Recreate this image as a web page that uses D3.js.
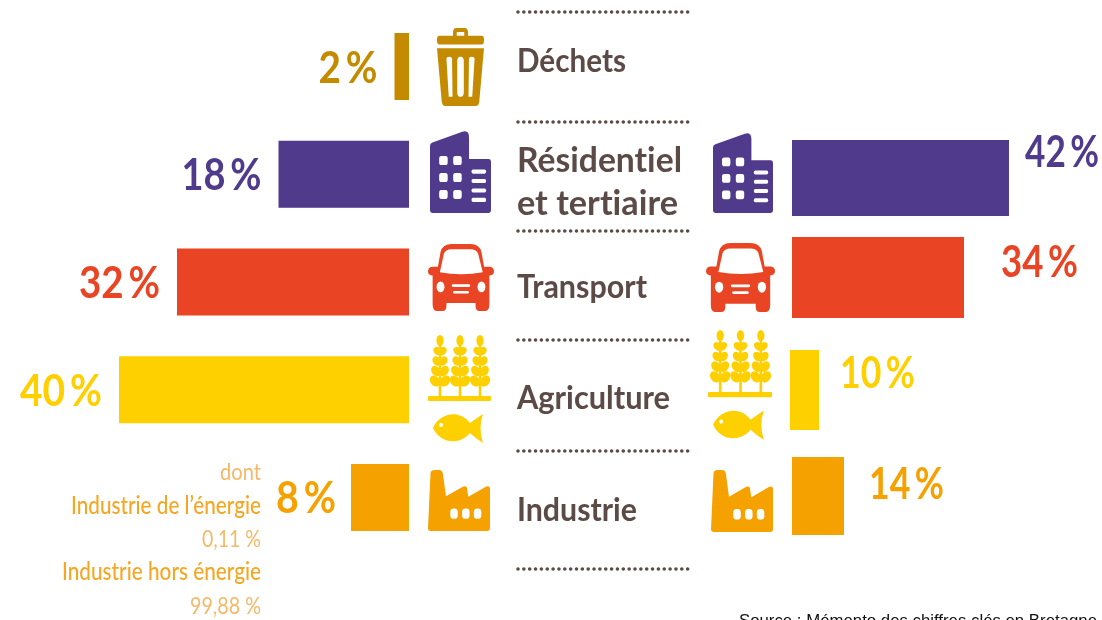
<!DOCTYPE html>
<html><head><meta charset="utf-8">
<script src="https://cdn.jsdelivr.net/npm/d3@7"></script>
<style>html,body{margin:0;padding:0;background:#fff;overflow:hidden}svg{display:block;filter:blur(0.45px)}text{font-family:Lato,sans-serif;font-variant-ligatures:none}</style>
</head><body><svg id="c" width="1102" height="620"></svg>
<script>
const categories = ["Déchets","Résidentiel et tertiaire","Transport","Agriculture","Industrie"];
const leftValues = [2,18,32,40,8];
const rightValues = [null,42,34,10,14];
const categoryLines = [["Déchets"],["Résidentiel","et tertiaire"],["Transport"],["Agriculture"],["Industrie"]];
const colors = ["#c48a00","#4f3a8c","#e94525","#ffd000","#f5a200"];
const industryNotes = ["dont","Industrie de l’énergie","0,11 %","Industrie hors énergie","99,88 %"];
const sourceText = "Source : Mémento des chiffres clés en Bretagne";

// layout tables (not data)
const rightRows = [null,[140,216],[237,318],[350,430],[457,535]];
const rightLabelX = [null,1025,1001,840,869];
const rightLabelY = [null,152,262,373,484];
const leftLabelW = [59,80,81,82,60];
const rightLabelW = [null,74,77,75,75];
const separators = [12,122,231,340,451,569];
const catLabelY = [[61],[161,204],[287],[398],[510]];
const catLabelW = [[109],[165,161],[130],[153],[120]];
const noteY = [472,506,539,572,606];
const noteW = [41,190,59,199,71];
const leftIcon = [[437,28,47,78],[430,131,61,82],[428,244,66,67],[428,335,63,111],[428,470,62,61]];
const rightIcon = [null,[713,133,60,80],[706,243,69,69],[708,330,64,113],[711,470,62,62]];
const iconKind = ["trash","building","car","agri","factory"];

const svg = d3.select("#c");
const xLeft = d3.scaleLinear().domain([0,40]).range([409,119]);
// the right-hand bars of the source are not drawn proportionally: piecewise scale
const xRight = d3.scaleLinear().domain([0,10,14,34,42]).range([792,819,844,964,1009]);
const yLeft = d3.scaleBand().domain(categories).range([33,531]).paddingInner(0.378).paddingOuter(0);
const fmt = v => v + "\u2009%";
const fit = (sel,w) => sel.attr("textLength",w).attr("lengthAdjust","spacingAndGlyphs");

// separators
svg.append("g").selectAll("line").data(separators).join("line")
  .attr("x1",518).attr("x2",690).attr("y1",d=>d).attr("y2",d=>d)
  .attr("stroke","#5b4a46").attr("stroke-width",3.6).attr("stroke-linecap","round").attr("stroke-dasharray","0 5.85");

// bars
svg.append("g").selectAll("rect").data(categories).join("rect")
  .attr("x",(d,i)=>xLeft(leftValues[i])).attr("y",d=>yLeft(d))
  .attr("width",(d,i)=>xLeft(0)-xLeft(leftValues[i])).attr("height",yLeft.bandwidth())
  .attr("fill",(d,i)=>colors[i]);
svg.append("g").selectAll("rect").data(categories.filter((d,i)=>rightValues[i]!==null)).join("rect")
  .each(function(d){const i=categories.indexOf(d);
    d3.select(this).attr("x",xRight(0)-(i===3?2:0)).attr("y",rightRows[i][0])
      .attr("width",xRight(rightValues[i])-xRight(0)+(i===3?2:0)).attr("height",rightRows[i][1]-rightRows[i][0])
      .attr("fill",colors[i]);});

// value labels
categories.forEach((d,i)=>{
  const x0=xLeft(leftValues[i])-17-leftLabelW[i]+(i===4?2:0);
  fit(svg.append("text").attr("x",x0).attr("y",yLeft(d)+yLeft.bandwidth()/2+16)
   .attr("font-size",44).attr("font-weight",700).attr("fill",colors[i]).text(fmt(leftValues[i])),leftLabelW[i]);
  if(rightValues[i]===null) return;
  fit(svg.append("text").attr("x",rightLabelX[i]).attr("y",rightLabelY[i]+15)
   .attr("font-size",44).attr("font-weight",700).attr("fill",colors[i]).text(fmt(rightValues[i])),rightLabelW[i]);
});

// category labels
categoryLines.forEach((lines,i)=>lines.forEach((t,j)=>{
  fit(svg.append("text").attr("x",517).attr("y",catLabelY[i][j]+11).attr("font-size",i===1?35:33).attr("font-weight",700)
    .attr("fill","#5b4a46").text(t),catLabelW[i][j]);
}));

// industry notes
industryNotes.forEach((t,i)=>{
  fit(svg.append("text").attr("x",261-noteW[i]).attr("y",noteY[i]+8).attr("font-size",24)
    .attr("font-weight",i%2?500:400).attr("fill",i%2?"#f5a623":"#f6b868").text(t),noteW[i]);
});

// source (cut by the lower edge, as in the reference)
fit(svg.append("text").attr("x",739).attr("y",626).attr("font-size",16.2).attr("fill","#111")
  .style("font-family","'Liberation Sans',Arial,sans-serif").text(sourceText),358);

// icons
function icon(kind,box,color){
  const vb = kind==="agri" ? [63,111] : [100,100];
  const g=svg.append("g").attr("transform",`translate(${box[0]},${box[1]}) scale(${box[2]/vb[0]},${box[3]/vb[1]})`);
  const P=(d,f)=>g.append("path").attr("d",d).attr("fill",f||color);
  const R=(x,y,w,h,r,f)=>g.append("rect").attr("x",x).attr("y",y).attr("width",w).attr("height",h).attr("rx",r).attr("fill",f||color);
  if(kind==="trash"){
    P("M34 6 Q34 0 41 0 H59 Q66 0 66 6 V11 H58 V5 H42 V11 H34Z");
    R(0,10,100,11,5);
    P("M0 26 H100 L90 94 Q89 100 83 100 H17 Q11 100 10 94Z");
    P("M20 39 Q20 37 26 37 Q32 37 32 39 L33 88 H25Z","#fff");
    R(43,37,14,51,6,"#fff");
    P("M68 39 Q68 37 74 37 Q80 37 80 39 L75 88 H67Z","#fff");
  } else if(kind==="building"){
    P("M0 18 Q0 15 4 14 L53 1 Q64 -2 64 8 V34 H96 Q100 34 100 38 V97 Q100 100 96 100 H4 Q0 100 0 97Z");
    [0,1,2].forEach(r=>{[0,1].forEach(c=>R(15+c*23,30.5+r*20.7,14,11,3.5,"#fff"));});
    [0,1,2,3].forEach(r=>R(68,47+r*11.5,24,5,2.5,"#fff"));
  } else if(kind==="car"){
    P("M15 34 L19 12 Q22 0 36 0 H64 Q78 0 81 12 L85 34 H94 Q100 35 100 41 Q100 46 94 47 H93 V90 Q93 100 87 100 H78 Q72 100 72 92 V88 H28 V92 Q28 100 22 100 H13 Q7 100 7 90 V47 H6 Q0 46 0 41 Q0 35 6 34Z");
    P("M18 42 L24 15 Q26 8 36 8 H64 Q74 8 76 15 L83 42 Q50 48 18 42Z","#fff");
    g.append("ellipse").attr("cx",19).attr("cy",64).attr("rx",6).attr("ry",8).attr("fill","#fff");
    g.append("ellipse").attr("cx",81).attr("cy",64).attr("rx",6).attr("ry",8).attr("fill","#fff");
    R(36,60,28,4,2,"#fff"); R(38,70,24,4,2,"#fff");
  } else if(kind==="agri"){
    [12,32,52].forEach(cx=>{
      R(cx-1.3,6,2.6,56,0);
      g.append("ellipse").attr("cx",cx).attr("cy",5.5).attr("rx",3.6).attr("ry",5.5).attr("fill",color);
      [[16,2.8,4.4,3.4],[26,3.4,5,3.8],[36,4.2,5.6,4.2],[46,5,6,4.6]].forEach(([y,dx,rx,ry])=>{
        [-1,1].forEach(s=>{
          g.append("ellipse").attr("rx",rx).attr("ry",ry).attr("fill",color)
           .attr("transform",`translate(${cx+s*dx},${y}) rotate(${s*(-55)})`);
        });
      });
    });
    R(0,61,63,5,1);
    P("M5 93 C11 79 30 73 42 88 Q46 85 55 79 Q50 93 55 108 Q46 102 42 98 C30 112 11 107 5 93Z");
    g.append("circle").attr("cx",13).attr("cy",90).attr("r",2).attr("fill","#fff");
  } else if(kind==="factory"){
    P("M4 6 Q4 0 11 0 H18 Q23 0 24 6 L29 43 L57 27 Q63 25 63 31 L65 44 L94 27 Q100 25 100 31 V96 Q100 100 96 100 H4 Q0 100 0 96Z");
    [36,55,74].forEach(x=>R(x,63,12,17,5.5,"#fff"));
  }
}
categories.forEach((d,i)=>{
  icon(iconKind[i],leftIcon[i],colors[i]);
  if(rightIcon[i]) icon(iconKind[i],rightIcon[i],colors[i]);
});
</script></body></html>
